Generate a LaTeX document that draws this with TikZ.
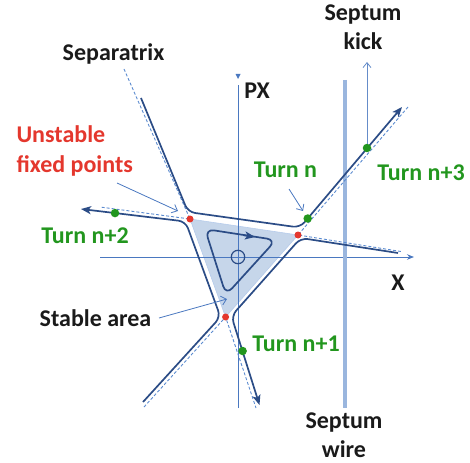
\documentclass[tikz,border=0pt]{standalone}
\usepackage{fontspec}
\setmainfont{Carlito}
\usetikzlibrary{arrows.meta}

\definecolor{trajblue}{RGB}{43,76,134}
\definecolor{linblue}{RGB}{74,120,192}
\definecolor{sepblue}{RGB}{91,139,208}
\definecolor{areafill}{RGB}{198,214,234}
\definecolor{wireblue}{RGB}{154,182,222}
\definecolor{fixred}{RGB}{228,55,45}
\definecolor{turngreen}{RGB}{34,150,30}
\definecolor{txtblack}{RGB}{26,26,26}

\begin{document}
\begin{tikzpicture}[x=1pt, y=-1pt,
    every node/.style={font=\fontsize{24}{29}\selectfont\bfseries},
    traj/.style={draw=trajblue, line width=1.7pt, rounded corners=7pt, line join=round},
    trajend/.style={-{Stealth[length=10pt,width=8pt,inset=2.5pt]}},
    sepline/.style={draw=sepblue, line width=0.9pt, dash pattern=on 3pt off 2pt},
    axisline/.style={draw=linblue, line width=0.9pt},
    pointer/.style={draw=linblue, line width=0.8pt, -{Straight Barb[length=5pt,width=9pt]}},
    fixpt/.style={circle, fill=fixred, inner sep=0pt, minimum size=7pt},
    turnpt/.style={circle, fill=turngreen, inner sep=0pt, minimum size=8.5pt},
    lab/.style={anchor=base, text=txtblack},
    turnlab/.style={anchor=base, text=turngreen}
  ]
  \useasboundingbox (0,0) rectangle (470,462);

  % fixed points of the separatrix
  \coordinate (P1) at (190,219);
  \coordinate (P2) at (298,235);
  \coordinate (P3) at (225.6,317);

  % ends of the separatrix arms
  \coordinate (armUL) at (124,69);
  \coordinate (armL)  at (100,207);
  \coordinate (armUR) at (408,107);
  \coordinate (armR)  at (401,251.5);
  \coordinate (armLL) at (144,407);
  \coordinate (armD)  at (256,408);

  % stable area
  \filldraw[fill=areafill, draw=sepblue!45, line width=0.6pt] (P1) -- (P2) -- (P3) -- cycle;

  % axes
  \draw[axisline, -{Stealth[length=7pt,width=5.5pt]}] (100,257) -- (414,257);
  \draw[axisline] (238,408) -- (238,85);
  \fill[linblue] (235.5,74) -- (240.5,74) -- (238,79) -- cycle;

  % septum wire
  \draw[wireblue, line width=4pt] (345,80) -- (345,408);

  % separatrix arms
  \draw[sepline] (armUL) -- (P1) -- (armL);
  \draw[sepline] (armUR) -- (P2) -- (armR);
  \draw[sepline] (armLL) -- (P3) -- (armD);

  % inner orbit
  \draw[traj, rounded corners=9pt] (205,229) -- (276,240) -- (226,295) -- cycle;
  \draw[draw=trajblue, line width=1.7pt, -{Stealth[length=10pt,width=8pt,inset=2.5pt]}] (244,235.3) -- (255,237);
  \draw[draw=trajblue, line width=1.2pt] (238,257) circle (6.7);

  % trajectories outside
  \draw[traj, trajend] (141,98) -- (188,212) -- (300,227.6) -- (402,107);
  \draw[traj, trajend] (143,402) -- (220.5,317) -- (185.5,221.5) -- (81,209);
  \draw[traj, trajend] (398,253) -- (300.7,238) -- (231.4,316) -- (259.5,405);

  % unstable fixed points
  \node[fixpt] (fp1) at (P1) {};
  \node[fixpt] (fp2) at (P2) {};
  \node[fixpt] (fp3) at (P3) {};

  % turns
  \node[turnpt] (tn)  at (307.7,218.5) {};
  \node[turnpt] (tn1) at (242.6,351) {};
  \node[turnpt] (tn2) at (115,213.1) {};
  \node[turnpt] (tn3) at (367,148) {};

  % septum kick
  \coordinate (kickTip) at (367,62);
  \draw[draw=linblue!85, line width=0.8pt, -{Straight Barb[length=5pt,width=8pt]}] (tn3) -- (kickTip);

  % labels
  \node[lab] (sepx) at (113.5,61) {Separatrix};
  \node[lab, text=fixred, align=left, anchor=base west] (unst) at (13,172) {Unstable\\fixed points};
  \node[turnlab] (ltn2) at (85,243) {Turn n+2};
  \node[turnlab] (ltn)  at (285.5,178) {Turn n};
  \node[turnlab] (ltn3) at (421,181) {Turn n+3};
  \node[turnlab] (ltn1) at (296,351) {Turn n+1};
  \node[lab] (stab) at (95.5,326) {Stable area};
  \node[lab] (px) at (257,99) {PX};
  \node[lab] (xlab) at (398,290) {X};
  \node[lab, align=center] (skick) at (363,50) {Septum\\kick};
  \node[lab, align=center] (swire) at (344,457) {Septum\\wire};

  % pointers
  \coordinate (unstTail) at (117,183);
  \coordinate (unstTip)  at (178,211);
  \coordinate (tnTail)   at (289,189);
  \coordinate (tnTip)    at (303,211);
  \coordinate (stabTail) at (159,318);
  \coordinate (stabTip)  at (227,299);
  \draw[pointer] (unstTail) -- (unstTip);
  \draw[pointer] (tnTail) -- (tnTip);
  \draw[pointer] (stabTail) -- (stabTip);
\end{tikzpicture}
\end{document}
